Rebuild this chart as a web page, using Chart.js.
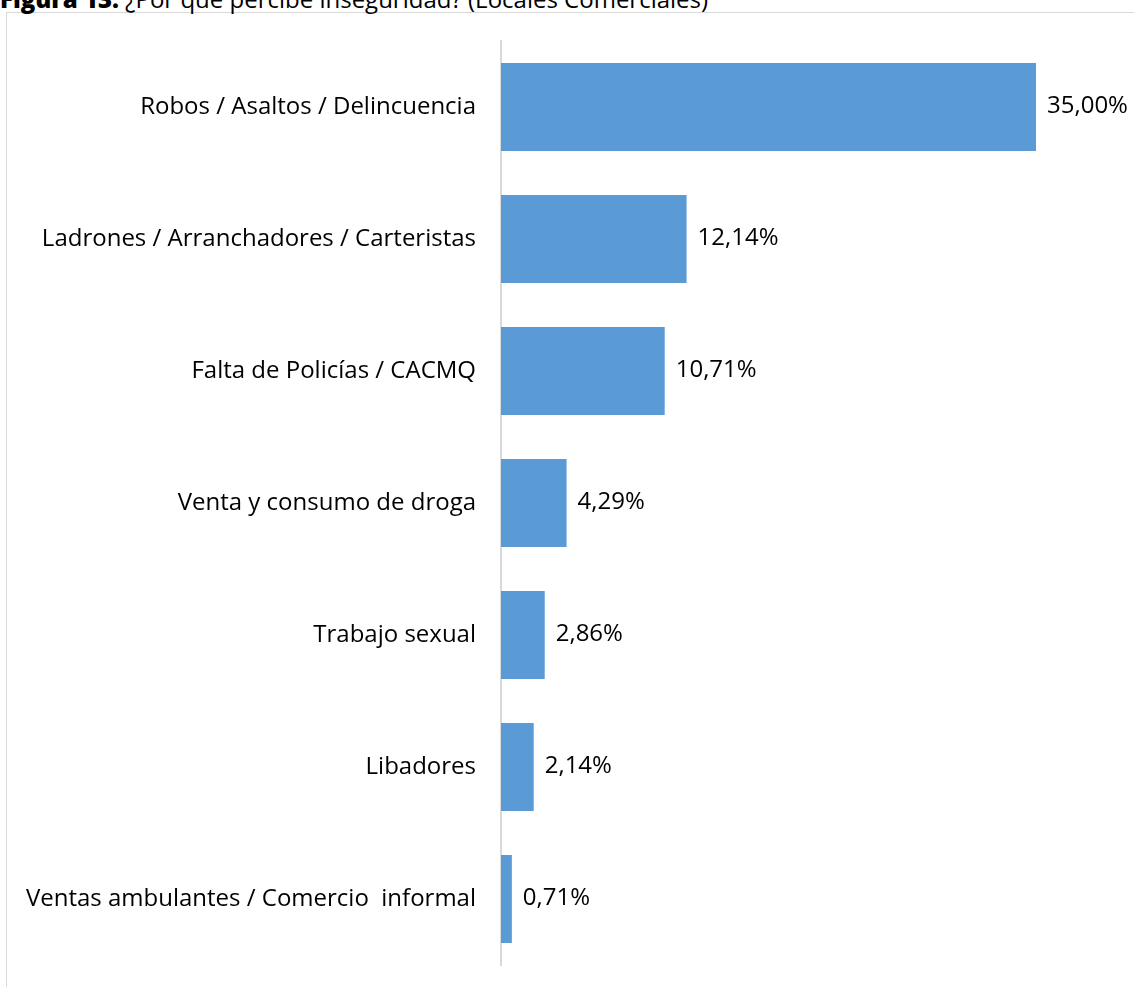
<!DOCTYPE html>
<html>
<head>
<meta charset="utf-8">
<script src="https://cdn.jsdelivr.net/npm/chart.js@4"></script>
<style>
  body { margin: 0; background: #fff; overflow: hidden; }
  #title { position: absolute; left: 0; top: -18px; font-family: "Open Sans", sans-serif; font-size: 24px; color: #000; white-space: nowrap; }
  #title b { font-weight: 800; }
  #box { position: absolute; left: 6px; top: 12px; width: 1200px; height: 1000px; border: 1px solid #d9d9d9; }
  #chart { position: absolute; left: 0; top: 0; }
</style>
</head>
<body>
<div id="box"></div>
<div id="title"><b>Figura 13.</b> ¿Por qué percibe inseguridad? (Locales Comerciales)</div>
<canvas id="chart" width="1134" height="987"></canvas>
<script>
var categories = [
    "Robos / Asaltos / Delincuencia",
    "Ladrones / Arranchadores / Carteristas",
    "Falta de Policías / CACMQ",
    "Venta y consumo de droga",
    "Trabajo sexual",
    "Libadores",
    "Ventas ambulantes / Comercio  informal"
];
var values = [35.00, 12.14, 10.71, 4.29, 2.86, 2.14, 0.71];

// draws the "35,00%" labels next to each bar
var valueLabels = {
    id: 'valueLabels',
    afterDatasetsDraw: function(chart) {
        var ctx = chart.ctx;
        var meta = chart.getDatasetMeta(0);
        ctx.save();
        ctx.font = '24px "Open Sans", sans-serif';
        ctx.fillStyle = '#000';
        ctx.textAlign = 'left';
        ctx.textBaseline = 'middle';
        meta.data.forEach(function(bar, i) {
            var txt = values[i].toFixed(2).replace('.', ',') + '%';
            ctx.fillText(txt, bar.x + 11, bar.y - 1);
        });
        ctx.restore();
    }
};

var ctx = document.getElementById("chart");
var chart = new Chart(ctx, {
    type: 'bar',
    data: {
        labels: categories,
        datasets: [{
            data: values,
            backgroundColor: "#5b9bd5",
            borderWidth: 0,
            barPercentage: 0.667,
            categoryPercentage: 1.0
        }]
    },
    options: {
        indexAxis: 'y',
        responsive: false,
        animation: false,
        layout: { padding: { top: 41, bottom: 22, right: 98, left: 0 } },
        plugins: {
            legend: { display: false },
            tooltip: { enabled: false }
        },
        scales: {
            x: {
                min: 0,
                max: 35,
                display: false,
                grid: { display: false }
            },
            y: {
                grid: { display: false, drawTicks: false },
                border: { display: true, color: '#d9d9d9', width: 2 },
                ticks: {
                    padding: 25,
                    color: '#000',
                    font: { family: 'Open Sans', size: 24 }
                },
                afterFit: function(scale) {
                    scale.width = 501;
                    scale.paddingTop = 0;
                    scale.paddingBottom = 0;
                }
            }
        }
    },
    plugins: [valueLabels]
});
</script>
</body>
</html>
